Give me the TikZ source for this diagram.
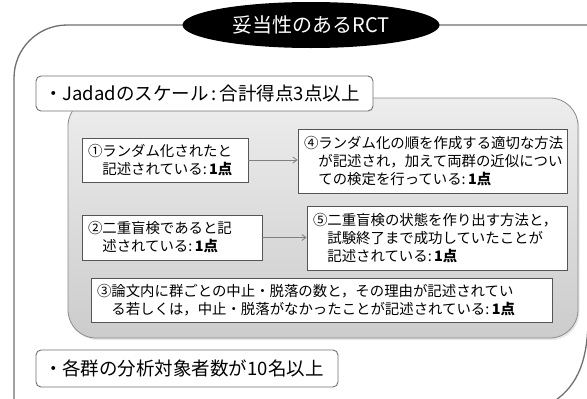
\documentclass[tikz,border=0pt]{standalone}
\usepackage{fontspec}
\setmainfont{Noto Sans CJK JP}
\usetikzlibrary{shapes.geometric,arrows.meta,shadows}
\definecolor{framegray}{HTML}{707070}
\definecolor{boxline}{HTML}{555555}
\definecolor{panelline}{HTML}{8C8C8C}
\tikzset{
  wbox/.style={draw=boxline, line width=0.9pt, fill=white, align=left,
    inner xsep=6pt, inner ysep=2pt, font=\fontsize{14.4}{18}\selectfont},
  headbox/.style={draw=framegray, line width=0.9pt, fill=white, rounded corners=5pt,
    align=left, inner xsep=8pt, font=\fontsize{18.5}{22}\selectfont},
  conn/.style={draw=gray, line width=0.8pt, -{Straight Barb[length=4pt,width=6pt]}},
}
\newcommand{\pt}{:\,\textbf{1点}}
\begin{document}
\begin{tikzpicture}[x=1pt,y=-1pt]
\useasboundingbox (0,0) rectangle (587,399);
\clip (0,0) rectangle (587,399);
\fill[white] (0,0) rectangle (587,399);
% outer frame
\draw[framegray, line width=1.3pt]
  (14,410) -- (14,78) arc[start angle=180, end angle=270, radius=53] -- (600,25);
\draw[framegray, line width=1.3pt]
  (588,300) -- (588,318) .. controls (588,365) and (575,390) .. (548,405);
% title
\node[ellipse, fill=black, minimum width=257pt, minimum height=46pt, inner sep=0pt,
  text=white, font=\fontsize{20}{24}\selectfont] (title) at (311,25) {妥当性のあるRCT};
% grey panel
\path[draw=panelline, line width=0.8pt, rounded corners=28pt,
  top color=gray!14, bottom color=gray!40,
  drop shadow={opacity=0.18, shadow xshift=1.5pt, shadow yshift=-2pt}]
  (68,98) rectangle (578,338);
% heading box
\node[headbox, minimum width=337pt, minimum height=35pt, text width=321pt] (jadad) at (204.5,93.5)
  {・Jadadのスケール\,:\,合計得点3点以上};
% item boxes
\node[wbox, minimum width=166pt, minimum height=44pt, text width=154pt] (b1) at (165,160)
  {①ランダム化されたと\\\hspace*{1em}記述されている\pt};
\node[wbox, minimum width=269pt, minimum height=64pt, text width=257pt] (b4) at (432.5,161)
  {④ランダム化の順を作成する適切な方法\\\hspace*{1em}が記述され，加えて両群の近似につい\\\hspace*{1em}ての検定を行っている\pt};
\node[wbox, minimum width=180pt, minimum height=45pt, text width=168pt] (b2) at (172,237.5)
  {②二重盲検であると記\\\hspace*{1em}述されている\pt};
\node[wbox, minimum width=260pt, minimum height=64pt, text width=248pt] (b5) at (437,238)
  {⑤二重盲検の状態を作り出す方法と，\\\hspace*{1em}試験終了まで成功していたことが\\\hspace*{1em}記述されている\pt};
\node[wbox, minimum width=461pt, minimum height=44pt, text width=449pt] (b3) at (321.5,300)
  {③論文内に群ごとの中止・脱落の数と，その理由が記述されてい\\\hspace*{1em}る若しくは，中止・脱落がなかったことが記述されている\pt};
% arrows
\draw[conn] (b1.east) -- (b1.east -| b4.west);
\draw[conn] (b2.east) -- (b2.east -| b5.west);
% bottom heading
\node[headbox, minimum width=302pt, minimum height=37pt, text width=286pt] (kaku) at (187,368.5)
  {・各群の分析対象者数が10名以上};
\end{tikzpicture}
\end{document}
